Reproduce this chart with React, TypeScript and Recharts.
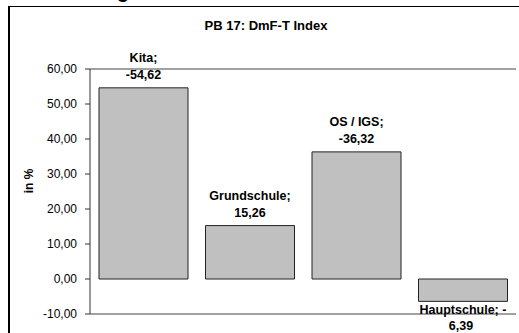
import { BarChart, Bar, XAxis, YAxis, CartesianGrid, LabelList } from 'recharts';

// Werte
const categories = ['Kita', 'Grundschule', 'OS / IGS', 'Hauptschule'];
const values = [54.62, 15.26, 36.32, -6.39];
const labelLine1 = ['Kita;', 'Grundschule;', 'OS / IGS;', 'Hauptschule; -'];
const labelLine2 = ['-54,62', '15,26', '-36,32', '6,39'];
const yTicks = [-10, 0, 10, 20, 30, 40, 50, 60];

const data = categories.map((name, i) => ({ name, value: values[i] }));

const font = 'Arial, "Liberation Sans", sans-serif';

const fmt = (v: number) => v.toFixed(2).replace('.', ',');

const BarLabel = (props: any) => {
  const { x, y, width, height, index } = props;
  const cx = x + width / 2;
  const top = Math.min(y, y + height);
  const bottom = Math.max(y, y + height);
  const neg = values[index] < 0;
  const y1 = neg ? bottom + 13 : top - 26;
  const y2 = neg ? bottom + 29 : top - 9;
  return (
    <g fontFamily={font} fontSize={12.5} fontWeight="bold" fill="#000" textAnchor="middle">
      <text x={cx} y={y1}>{labelLine1[index]}</text>
      <text x={cx - (neg ? 2 : 0)} y={y2}>{labelLine2[index]}</text>
    </g>
  );
};

const App = () => {
  return (
    <div style={{ position: 'absolute', left: 0, top: 0, width: 519, height: 333, background: '#fff', overflow: 'hidden' }}>
      {/* abgeschnittene Überschrift oben */}
      <svg width={519} height={20} style={{ position: 'absolute', left: 0, top: 0 }}>
        <text x={117} y={-2} fontFamily={font} fontSize={20} fontWeight="bold">g</text>
      </svg>
      {/* Rahmen */}
      <div style={{ position: 'absolute', left: 8, top: 6, width: 530, height: 340, borderLeft: '2px solid #000', borderTop: '1.5px solid #000' }} />
      <div style={{ position: 'absolute', left: 0, top: 18, width: 532, textAlign: 'center', fontFamily: font, fontSize: 13, fontWeight: 'bold' }}>
        PB 17: DmF-T Index
      </div>
      <div style={{ position: 'absolute', left: 29, top: 181, transform: 'translate(-50%, -50%) rotate(-90deg)', fontFamily: font, fontSize: 12, fontWeight: 'bold', whiteSpace: 'nowrap' }}>
        in %
      </div>
      <div style={{ position: 'absolute', left: 0, top: 0 }}>
        <BarChart
          width={519}
          height={333}
          data={data}
          margin={{ top: 69, right: 3, bottom: 19, left: 0 }}
          barCategoryGap={9}
        >
          <CartesianGrid vertical={false} stroke="#444" strokeWidth={1} />
          <XAxis dataKey="name" hide />
          <YAxis
            yAxisId="left"
            width={90}
            domain={[-10, 60]}
            ticks={yTicks}
            interval={0}
            tickFormatter={fmt}
            tickSize={5}
            tickMargin={8}
            tick={{ fontFamily: font, fontSize: 12, fill: '#000' }}
            axisLine={{ stroke: '#333' }}
            tickLine={{ stroke: '#333' }}
          />
          <YAxis
            yAxisId="right"
            orientation="right"
            width={0}
            domain={[-10, 60]}
            tick={false}
            tickLine={false}
            axisLine={{ stroke: '#888' }}
          />
          <Bar yAxisId="left" dataKey="value" fill="#c0c0c0" stroke="#222" strokeWidth={1} isAnimationActive={false}>
            <LabelList dataKey="value" content={<BarLabel />} />
          </Bar>
        </BarChart>
      </div>
    </div>
  );
};

export default App;
